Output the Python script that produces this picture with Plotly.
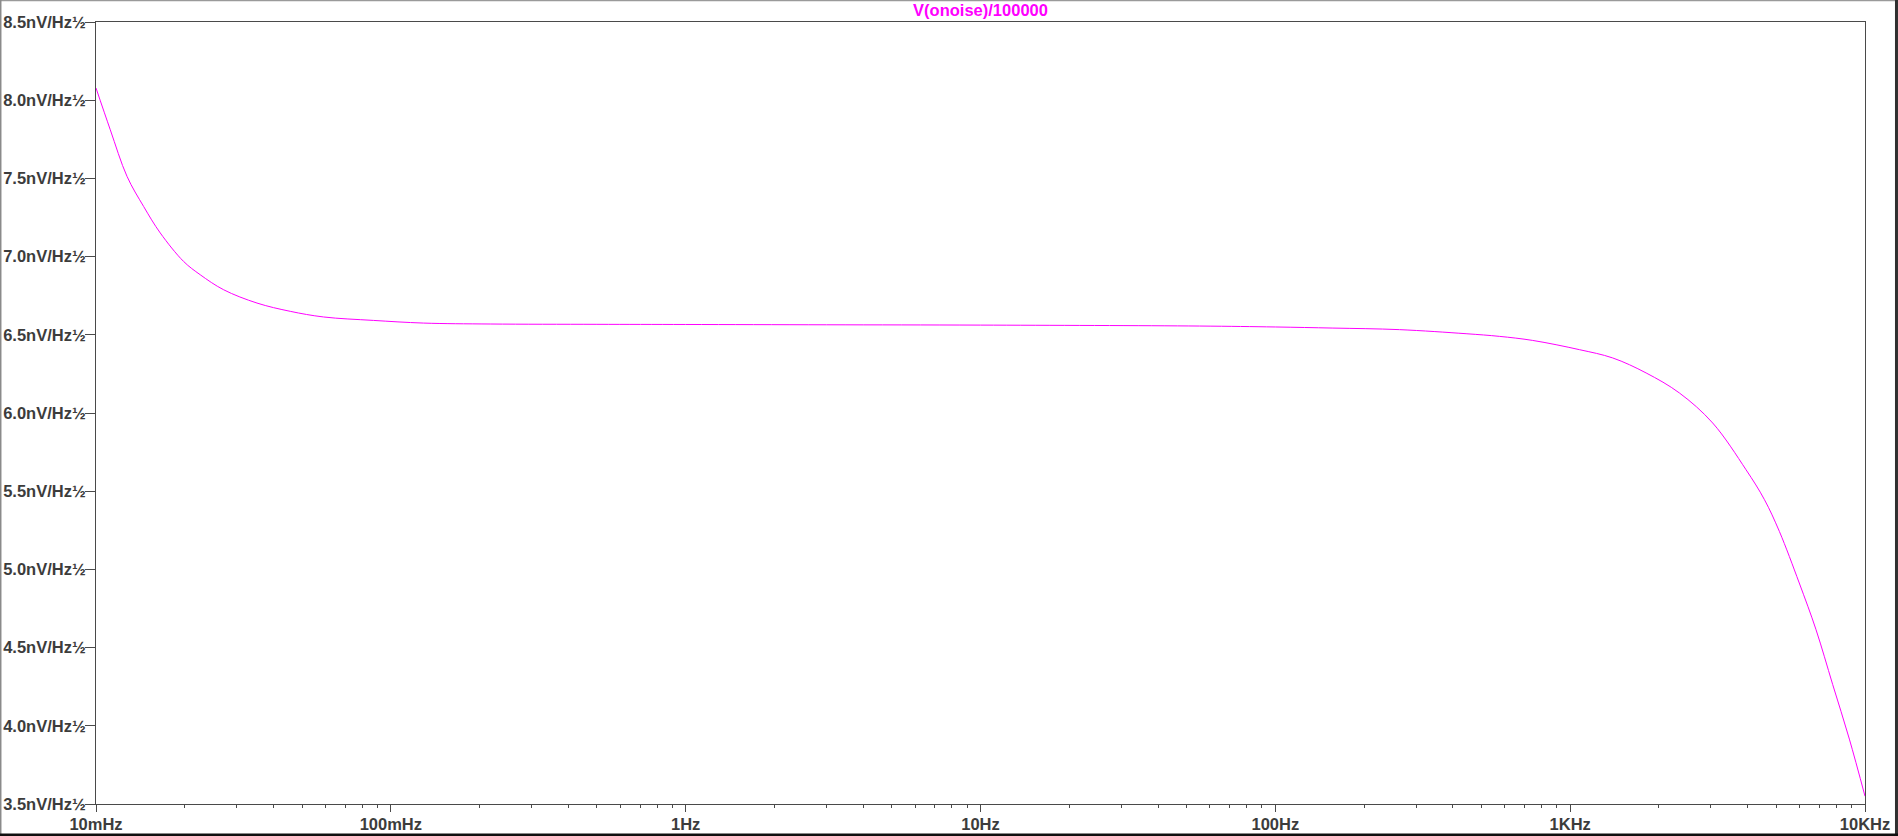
import plotly.graph_objects as go

# Frequencies (Hz) and output noise (nV/Hz½)
freq_hz = [0.0100, 0.01118, 0.01274, 0.01450, 0.01652, 0.01982, 0.02257, 0.02710,
           0.03516, 0.04560, 0.05916, 0.08730, 0.1290, 0.2173, 0.5, 1.0, 3.0, 10.0,
           55.3, 100.0, 156.7, 263.6, 443.6, 575.4, 746.4, 1075.0, 1394.0,
           1810.0, 2347.0, 3044.0, 3950.0, 4560.0, 5123.0, 5984.0, 6823.0, 7767.0,
           8851.0, 10000.0]
noise_nv = [8.078, 7.811, 7.513, 7.321, 7.151, 6.969, 6.884, 6.788,
            6.703, 6.650, 6.614, 6.592, 6.575, 6.569, 6.567, 6.566, 6.564, 6.562,
            6.556, 6.550, 6.543, 6.533, 6.507, 6.490, 6.464, 6.405, 6.352,
            6.256, 6.128, 5.936, 5.637, 5.446, 5.243, 4.913, 4.614, 4.265,
            3.915, 3.550]

x_tick_vals = [0.01, 0.1, 1, 10, 100, 1000, 10000]
x_tick_text = ["10mHz", "100mHz", "1Hz", "10Hz", "100Hz", "1KHz", "10KHz"]
y_tick_vals = [3.5, 4.0, 4.5, 5.0, 5.5, 6.0, 6.5, 7.0, 7.5, 8.0, 8.5]
y_tick_text = [f"{v:.1f}nV/Hz½" for v in y_tick_vals]
series_name = "V(onoise)/100000"

AX = "#4a4a4a"
TXT = "#3c3c3c"
FONT = "Liberation Sans, Arial, sans-serif"
FS = 16.5

fig = go.Figure()
fig.add_trace(go.Scatter(x=freq_hz, y=noise_nv, mode="lines", name=series_name,
                         line=dict(color="#ff00ff", width=1, shape="spline", smoothing=1.0),
                         hoverinfo="skip"))

fig.update_layout(
    width=1898, height=836,
    margin=dict(l=96, r=33, t=22, b=32, pad=0, autoexpand=False),
    paper_bgcolor="white", plot_bgcolor="white",
    showlegend=False,
    title=dict(text="<b>" + series_name + "</b>", x=0.5, xref="paper", xanchor="center",
               y=1 - 10.5 / 836, yref="container", yanchor="middle",
               font=dict(family=FONT, size=FS, color="#ff00ff")),
    font=dict(family=FONT, size=FS, color=TXT),
)
fig.update_xaxes(type="log", range=[-2, 4], showgrid=False, zeroline=False, automargin=False,
                 showline=True, linecolor=AX, linewidth=1, mirror=True,
                 ticks="outside", ticklen=7, tickcolor=AX, tickwidth=1,
                 tickvals=x_tick_vals, ticktext=["<b>" + t + "</b>" for t in x_tick_text],
                 ticklabelstandoff=-2,
                 tickfont=dict(family=FONT, size=FS, color=TXT),
                 minor=dict(ticks="outside", ticklen=3, tickcolor=AX, tickwidth=1,
                            dtick="D1", showgrid=False))
fig.update_yaxes(range=[3.5, 8.5], showgrid=False, zeroline=False, automargin=False,
                 showline=True, linecolor=AX, linewidth=1, mirror=True,
                 ticks="outside", ticklen=10, tickcolor=AX, tickwidth=1,
                 tickvals=y_tick_vals, ticktext=["<b>" + t + "</b>" for t in y_tick_text],
                 ticklabelstandoff=-4,
                 tickfont=dict(family=FONT, size=FS, color=TXT))

# window frame
frame = [
    dict(x0=-0.0545, x1=1.019, y0=1.0275, y1=1.0275, color="#9a9a9a", w=1.5),
    dict(x0=-0.0540, x1=-0.0540, y0=-0.041, y1=1.028, color="#8a8a8a", w=2),
    dict(x0=1.0178, x1=1.0178, y0=-0.041, y1=1.028, color="#303030", w=3),
    dict(x0=-0.0545, x1=1.019, y0=-0.0396, y1=-0.0396, color="#101010", w=3),
]
for s in frame:
    fig.add_shape(type="line", xref="paper", yref="paper", x0=s["x0"], x1=s["x1"],
                  y0=s["y0"], y1=s["y1"], line=dict(color=s["color"], width=s["w"]))

fig.write_html("out.html")
